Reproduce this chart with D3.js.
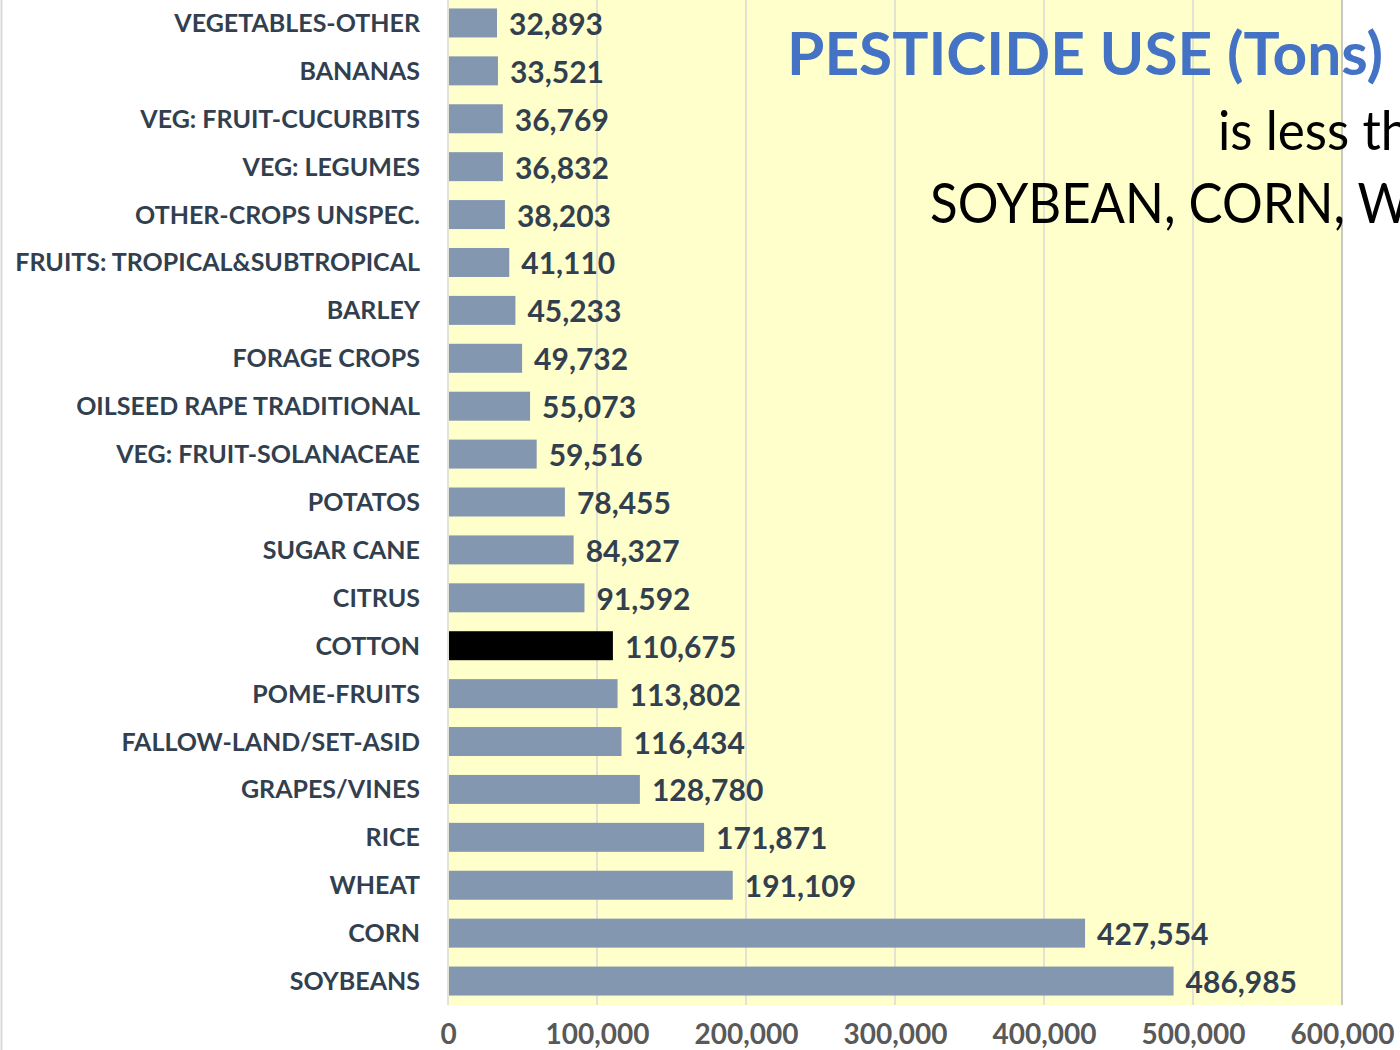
<!DOCTYPE html>
<html><head><meta charset="utf-8">
<script src="https://d3js.org/d3.v7.min.js"></script>
<style>
html,body{margin:0;padding:0;background:#fff;overflow:hidden;}
svg{display:block;}
</style></head>
<body>
<script>
const categories = ["VEGETABLES-OTHER","BANANAS","VEG: FRUIT-CUCURBITS","VEG: LEGUMES","OTHER-CROPS UNSPEC.","FRUITS: TROPICAL&SUBTROPICAL","BARLEY","FORAGE CROPS","OILSEED RAPE TRADITIONAL","VEG: FRUIT-SOLANACEAE","POTATOS","SUGAR CANE","CITRUS","COTTON","POME-FRUITS","FALLOW-LAND/SET-ASID","GRAPES/VINES","RICE","WHEAT","CORN","SOYBEANS"];
const values = [32893,33521,36769,36832,38203,41110,45233,49732,55073,59516,78455,84327,91592,110675,113802,116434,128780,171871,191109,427554,486985];
const highlighted = ["COTTON"];
const tickValues = [0,100000,200000,300000,400000,500000,600000];
const titleText = "PESTICIDE USE (Tons)";
const subtitleLines = ["is less than","SOYBEAN, CORN, WHEAT"];

const W = 1400, H = 1050;
const svg = d3.select("body").append("svg").attr("width", W).attr("height", H);
const plot = {left:448, right:1342, top:-1, bottom:1005};

const x = d3.scaleLinear().domain([0,600000]).range([plot.left, plot.right]);
const y = d3.scaleBand().domain(categories).range([plot.top, plot.bottom]).paddingInner(0.395).paddingOuter(0.1975);

// left page border
svg.append("line").attr("x1",1.5).attr("x2",1.5).attr("y1",0).attr("y2",H).attr("stroke","#d9d9d9").attr("stroke-width",2);

// plot background
svg.append("rect").attr("x",plot.left).attr("y",0).attr("width",plot.right-plot.left).attr("height",plot.bottom).attr("fill","#FFFFCC");

// gridlines
svg.append("g").selectAll("line").data(tickValues).join("line")
  .attr("x1",d=>x(d)).attr("x2",d=>x(d)).attr("y1",0).attr("y2",plot.bottom)
  .attr("stroke",d=> d===600000 ? "#c8c8c8" : "#d9d9d9").attr("stroke-width",d=> d===600000?2:1.5);

// bars
svg.append("g").selectAll("rect").data(categories).join("rect")
  .attr("x",x(0)+1).attr("y",d=>y(d))
  .attr("width",(d,i)=>x(values[i])-x(0)-1).attr("height",y.bandwidth())
  .attr("fill",d=> highlighted.includes(d) ? "#000000" : "#8497B0");

// value labels
const fmt = d3.format(",");
svg.append("g").selectAll("text").data(categories).join("text")
  .attr("x",(d,i)=>x(values[i])+12).attr("y",d=>y(d)+y.bandwidth()/2+12)
  .attr("font-family","Lato").attr("font-weight","bold").attr("font-size",30)
  .attr("fill","#323F4F")
  .text((d,i)=>fmt(values[i]));

// category labels
svg.append("g").selectAll("text").data(categories).join("text")
  .attr("x",420).attr("y",d=>y(d)+y.bandwidth()/2+9)
  .attr("text-anchor","end")
  .attr("font-family","Lato").attr("font-weight","bold").attr("font-size",25)
  .attr("fill","#323F4F")
  .text(d=>d);

// x axis
const xAxis = d3.axisBottom(x).tickValues(tickValues).tickFormat(d3.format(",")).tickSize(0).tickPadding(0);
const ax = svg.append("g").attr("transform",`translate(0,${plot.bottom})`).call(xAxis);
ax.select(".domain").remove();
ax.selectAll("text").attr("dy",null).attr("y",39)
  .attr("font-family","Lato").attr("font-weight","bold").attr("font-size",28).attr("fill","#595959");

// title & subtitle
svg.append("text").attr("x",787).attr("y",75)
  .attr("font-family","Lato").attr("font-weight","bold").attr("font-size",60)
  .attr("fill","#4472C4").attr("textLength",596).attr("lengthAdjust","spacingAndGlyphs")
  .text(titleText);
svg.append("text").attr("transform","translate(1218,150) scale(0.95,1)")
  .attr("font-family","Lato").attr("font-size",54).attr("fill","#000")
  .text(subtitleLines[0]);
svg.append("text").attr("transform","translate(930,223) scale(0.91,1)")
  .attr("font-family","Lato").attr("font-size",56).attr("fill","#000")
  .text(subtitleLines[1]);
</script>
</body></html>
